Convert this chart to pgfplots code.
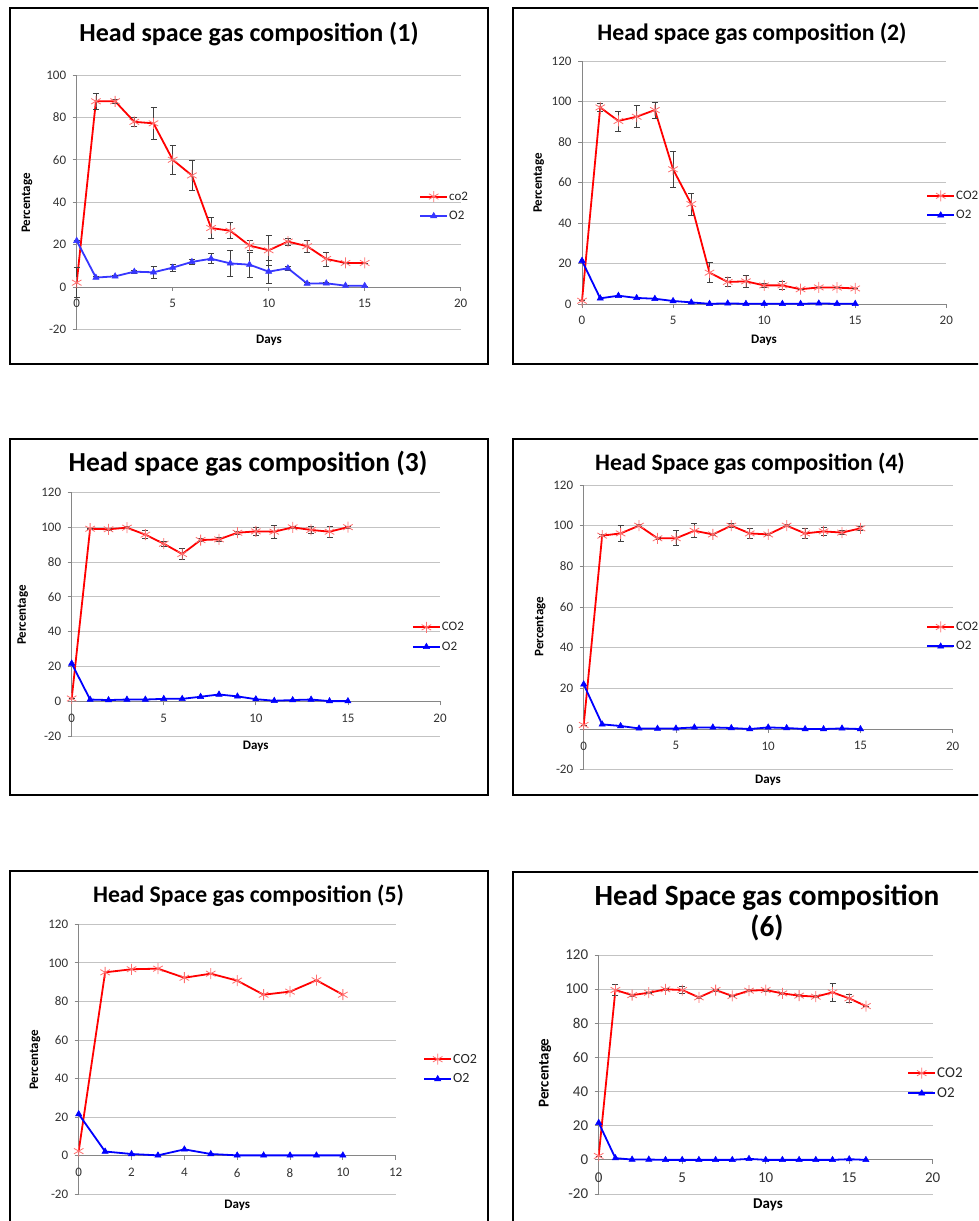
\documentclass[border=0pt]{standalone}
\usepackage{fontspec}
\setmainfont{Carlito}
\usepackage{pgfplots}
\pgfplotsset{compat=1.18}
\definecolor{cred}{RGB}{255,0,0}
\definecolor{cmark}{RGB}{255,110,110}
\definecolor{cblue}{RGB}{0,0,255}
\definecolor{cblueL}{RGB}{55,55,255}
\definecolor{gridc}{RGB}{195,195,195}
\definecolor{axc}{RGB}{134,134,134}
\pgfplotsset{
  gas/.style={scale only axis, clip=false,
    axis y line=left, axis x line=middle,
    axis line style={-, draw=axc, line width=0.8pt},
    ymajorgrids, grid style={gridc, line width=0.8pt},
    tick align=outside, major tick length=4pt,
    tick style={axc, line width=0.8pt},
    hide obscured x ticks=false, hide obscured y ticks=false,
    /pgf/number format/assume math mode=true,
    ticklabel style={font=\fontsize{13}{13}\selectfont, text=black!80},
    yticklabel style={xshift=-3pt},
    xticklabel style={yshift=-5pt},
    legend cell align=left,
    legend style={draw=none, fill=none, inner sep=0pt, row sep=9pt,
      font=\fontsize{13}{13}\selectfont, text=black!85,
      nodes={inner xsep=1pt, inner ysep=0pt}},
    legend image code/.code={\draw[mark repeat=2,mark phase=2,##1,line width=2pt] plot coordinates {(0pt,0pt) (13.5pt,0pt) (27pt,0pt)};},
  },
  ebar/.style={error bars/y dir=both, error bars/y explicit,
    error bars/error mark=|,
    error bars/error bar style={black!75, line width=0.7pt},
    error bars/error mark options={black!75, mark size=3pt, line width=0.7pt}},
  co2/.style={cred, line width=1.8pt, mark=asterisk, mark size=5.5pt,
    mark options={draw=cmark, line width=0.8pt}},
  o2/.style={cblue, line width=1.8pt, mark=triangle*, mark size=3.6pt,
    mark options={fill=cblue, draw=cblue, line width=0.5pt}},
  o2L/.style={cblueL, line width=1.8pt, mark=triangle*, mark size=3.6pt,
    mark options={fill=cblueL, draw=cblueL, line width=0.5pt}},
}
\newcommand{\ttl}[1]{\bfseries\fontsize{#1}{#1}\selectfont}
\begin{document}
\begin{tikzpicture}
\useasboundingbox (0pt,0pt) rectangle (978pt,-1221pt);
\clip (0pt,0pt) rectangle (978pt,-1221pt);
\fill[white] (0pt,0pt) rectangle (978pt,-1221pt);
% frames
\draw[line width=2pt] (10pt,-8pt) rectangle (488pt,-364pt);
\draw[line width=2pt] (513pt,-8pt) rectangle (992pt,-364pt);
\draw[line width=2pt] (10pt,-439pt) rectangle (488pt,-795pt);
\draw[line width=2pt] (513pt,-439pt) rectangle (992pt,-795pt);
\draw[line width=2pt] (10pt,-871pt) rectangle (488pt,-1235pt);
\draw[line width=2pt] (513pt,-872pt) rectangle (992pt,-1235pt);

% ---------- Panel 1 ----------
\begin{axis}[gas, at={(76.7pt,-329.3pt)}, anchor=south west,
  width=384pt, height=254.3pt, xmin=0, xmax=20, ymin=-20, ymax=100,
  xtick={0,5,10,15,20}, ytick={-20,0,20,40,60,80,100},
  legend style={at={(0.8914,0.4848)}, anchor=west}]
\addplot[co2, ebar, forget plot] table[x=x,y=y,y error=e] {
x y e
0 2 7
1 87.6 3.8
2 87.6 1.0
3 77.9 2.2
4 77.2 7.5
5 60.0 6.7
6 52.6 7.2
7 27.8 4.8
8 26.5 3.8
9 19.5 2.4
10 17.3 7.0
11 21.4 1.6
12 19.2 3.0
13 13.2 3.3
14 11.3 0
15 11.3 0
};
\addplot[o2L, ebar, forget plot] table[x=x,y=y,y error=e] {
x y e
0 21.8 0
1 4.4 0.5
2 5.0 0.5
3 7.2 0.8
4 6.9 2.9
5 9.1 1.6
6 11.8 1.0
7 13.3 2.4
8 11.1 6.0
9 10.5 6.0
10 7.2 5.5
11 8.8 1.0
12 1.6 0.6
13 1.7 0.6
14 0.6 0
15 0.5 0
};
\addlegendimage{co2}
\addlegendentry{co2}
\addlegendimage{o2L}
\addlegendentry{O2}
\end{axis}
\node[font=\ttl{26}] at (249pt,-34pt) {Head space gas composition (1)};
\node[font=\ttl{13}, rotate=90] at (27pt,-203pt) {Percentage};
\node[font=\ttl{13}] at (269pt,-340pt) {Days};

% ---------- Panel 2 ----------
\begin{axis}[gas, at={(582pt,-304pt)}, anchor=south west,
  width=364.3pt, height=242.7pt, xmin=0, xmax=20, ymin=0, ymax=120,
  xtick={0,5,10,15,20}, ytick={0,20,40,60,80,100,120},
  legend style={at={(0.9443,0.4067)}, anchor=west}]
\addplot[co2, ebar, forget plot] table[x=x,y=y,y error=e] {
x y e
0 1.6 0
1 97.2 2
2 90.5 5
3 92.6 5.5
4 95.9 3.9
5 66.6 8.8
6 49.4 5.4
7 15.5 5
8 10.9 2.4
9 11.2 2.8
10 9.2 1.2
11 9.2 2
12 7.3 0
13 8.2 0
14 8.1 0
15 7.7 0
};
\addplot[o2, forget plot] table[x=x,y=y] {
x y
0 21.4
1 2.8
2 4.1
3 3.0
4 2.6
5 1.5
6 0.8
7 0.1
8 0.3
9 0.1
10 0.1
11 0.1
12 0.1
13 0.3
14 0.1
15 0.1
};
\addlegendimage{co2}
\addlegendentry{CO2}
\addlegendimage{o2}
\addlegendentry{O2}
\end{axis}
\node[font=\ttl{23.7}] at (752pt,-34pt) {Head space gas composition (2)};
\node[font=\ttl{13}, rotate=90] at (538.7pt,-183pt) {Percentage};
\node[font=\ttl{13}] at (764pt,-340.7pt) {Days};

% ---------- Panel 3 ----------
\begin{axis}[gas, at={(71.7pt,-736.3pt)}, anchor=south west,
  width=368.3pt, height=244pt, xmin=0, xmax=20, ymin=-20, ymax=120,
  xtick={0,5,10,15,20}, ytick={-20,0,20,40,60,80,100,120},
  legend style={at={(0.9232,0.4078)}, anchor=west}]
\addplot[co2, ebar, forget plot] table[x=x,y=y,y error=e] {
x y e
0 1.7 0
1 99.1 0.5
2 98.8 0.5
3 99.7 0.5
4 95.7 2.4
5 90.5 1.6
6 84.6 3.3
7 92.6 1
8 93.0 1
9 96.8 1
10 97.6 2.1
11 97.4 3.8
12 99.9 0.5
13 98.4 1.9
14 97.4 3.3
15 100 0.5
};
\addplot[o2, forget plot] table[x=x,y=y] {
x y
0 21.8
1 1.1
2 0.8
3 1.1
4 1.1
5 1.5
6 1.5
7 2.7
8 4.0
9 2.9
10 1.3
11 0.4
12 0.8
13 1.1
14 0.2
15 0.2
};
\addlegendimage{co2}
\addlegendentry{CO2}
\addlegendimage{o2}
\addlegendentry{O2}
\end{axis}
\node[font=\ttl{27.5}] at (248pt,-464pt) {Head space gas composition (3)};
\node[font=\ttl{13}, rotate=90] at (22.7pt,-615pt) {Percentage};
\node[font=\ttl{13}] at (255.7pt,-746.7pt) {Days};

% ---------- Panel 4 ----------
\begin{axis}[gas, at={(583.7pt,-769.7pt)}, anchor=south west,
  width=369pt, height=284.7pt, xmin=0, xmax=20, ymin=-20, ymax=120,
  xtick={0,5,10,15,20}, ytick={-20,0,20,40,60,80,100,120},
  legend style={at={(0.9276,0.4681)}, anchor=west}]
\addplot[co2, ebar, forget plot] table[x=x,y=y,y error=e] {
x y e
0 2.0 0
1 95.1 0.5
2 96.2 4
3 100 0.5
4 93.8 0.5
5 93.8 3.7
6 97.5 3.4
7 95.7 0.5
8 100 1
9 96.2 2.3
10 95.7 0.5
11 100 0.5
12 96.2 2.5
13 97.2 2.1
14 96.6 1
15 98.7 1
};
\addplot[o2, forget plot] table[x=x,y=y] {
x y
0 22.0
1 2.3
2 1.5
3 0.3
4 0.2
5 0.3
6 0.8
7 0.8
8 0.5
9 0
10 0.8
11 0.5
12 0
13 0
14 0.3
15 0
};
\addlegendimage{co2}
\addlegendentry{CO2}
\addlegendimage{o2}
\addlegendentry{O2}
\end{axis}
\node[font=\ttl{23.6}] at (750pt,-464pt) {Head Space gas composition (4)};
\node[font=\ttl{13}, rotate=90] at (540.3pt,-626.7pt) {Percentage};
\node[font=\ttl{13}] at (768pt,-780pt) {Days};

% ---------- Panel 5 ----------
\begin{axis}[gas, at={(78.7pt,-1194.3pt)}, anchor=south west,
  width=317pt, height=270pt, xmin=0, xmax=12, ymin=-20, ymax=120,
  xtick={0,2,4,6,8,10,12}, ytick={-20,0,20,40,60,80,100,120},
  legend style={at={(1.0861,0.4641)}, anchor=west, font=\fontsize{14}{14}\selectfont}]
\addplot[co2, forget plot] table[x=x,y=y] {
x y
0 2.4
1 95.1
2 96.7
3 97.0
4 92.3
5 94.4
6 90.8
7 83.5
8 85.1
9 91.0
10 83.5
};
\addplot[o2, forget plot] table[x=x,y=y] {
x y
0 21.6
1 2.2
2 0.9
3 0.2
4 3.3
5 0.9
6 0.2
7 0.2
8 0.2
9 0.2
10 0.2
};
\addlegendimage{co2}
\addlegendentry{CO2}
\addlegendimage{o2}
\addlegendentry{O2}
\end{axis}
\node[font=\ttl{23.7}] at (248.5pt,-896pt) {Head Space gas composition (5)};
\node[font=\ttl{13}, rotate=90] at (35pt,-1060pt) {Percentage};
\node[font=\ttl{13}] at (237.3pt,-1205pt) {Days};

% ---------- Panel 6 ----------
\begin{axis}[gas, at={(598.7pt,-1194pt)}, anchor=south west,
  width=334pt, height=239pt, xmin=0, xmax=20, ymin=-20, ymax=120,
  xtick={0,5,10,15,20}, ytick={-20,0,20,40,60,80,100,120},
  ticklabel style={font=\fontsize{15}{15}\selectfont},
  legend style={at={(0.9231,0.4635)}, anchor=west, font=\fontsize{15}{15}\selectfont}]
\addplot[co2, ebar, forget plot] table[x=x,y=y,y error=e] {
x y e
0 2.3 0
1 99.5 3.4
2 96.5 0.5
3 97.9 0.5
4 99.9 0.5
5 99.5 2
6 95.2 0.5
7 99.5 0.5
8 96.0 0.5
9 99.1 0.5
10 99.5 0.5
11 97.5 0.5
12 96.2 0.5
13 95.6 0.5
14 98.1 5.2
15 94.6 2.2
16 90.1 0
};
\addplot[o2, forget plot] table[x=x,y=y] {
x y
0 21.7
1 1.0
2 0.2
3 0.2
4 0
5 0
6 0
7 0
8 0
9 0.6
10 0
11 0
12 0
13 0
14 0
15 0.4
16 0
};
\addlegendimage{co2}
\addlegendentry{CO2}
\addlegendimage{o2}
\addlegendentry{O2}
\end{axis}
\node[font=\ttl{29.3}] at (767pt,-898pt) {Head Space gas composition};
\node[font=\ttl{29.3}] at (767pt,-928pt) {(6)};
\node[font=\ttl{15}, rotate=90] at (545pt,-1073pt) {Percentage};
\node[font=\ttl{15}] at (768pt,-1204.3pt) {Days};
\end{tikzpicture}
\end{document}
